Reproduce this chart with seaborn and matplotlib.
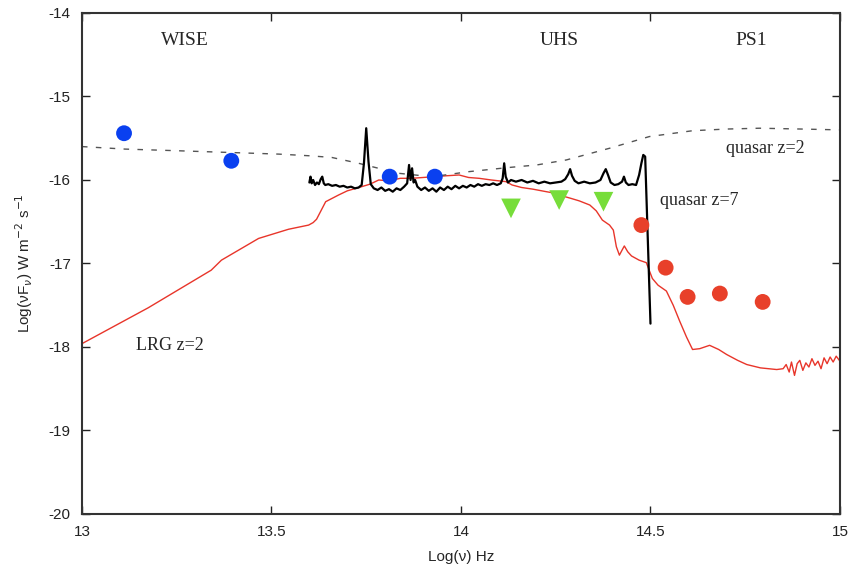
import pandas as pd
import matplotlib
matplotlib.use("Agg")
import matplotlib.pyplot as plt
import seaborn as sns

# photometry points
wise_x = [13.111, 13.394]
wise_y = [-15.44, -15.77]
wise2_x = [13.812, 13.931]
wise2_y = [-15.96, -15.96]
uhs_x = [14.132, 14.259, 14.376]
uhs_y = [-16.34, -16.24, -16.26]
ps1_x = [14.476, 14.540, 14.598, 14.683, 14.796]
ps1_y = [-16.54, -17.05, -17.40, -17.36, -17.46]

# quasar z=2 template (dashed)
qso2_x = [13.0, 13.114, 13.254, 13.386, 13.519, 13.60, 13.659, 13.730, 13.80, 13.836,
          13.90, 13.942, 14.021, 14.127, 14.20, 14.278, 14.392, 14.497, 14.611, 14.70,
          14.788, 14.90, 15.0]
qso2_y = [-15.60, -15.63, -15.65, -15.67, -15.69, -15.71, -15.73, -15.80, -15.88, -15.92,
          -15.95, -15.95, -15.90, -15.85, -15.82, -15.76, -15.62, -15.48, -15.41, -15.39,
          -15.38, -15.39, -15.40]

# quasar z=7 spectrum (black)
qso7_x = [13.600, 13.603, 13.606, 13.610, 13.615, 13.620, 13.625, 13.630, 13.634, 13.638,
          13.642, 13.650, 13.660, 13.670, 13.680, 13.690, 13.700, 13.710, 13.720, 13.730,
          13.738, 13.744, 13.750, 13.756, 13.762, 13.770, 13.780, 13.790, 13.800, 13.810,
          13.820, 13.830, 13.840, 13.850, 13.858, 13.863, 13.867, 13.871, 13.875, 13.879,
          13.885, 13.895, 13.905, 13.915, 13.925, 13.935, 13.945, 13.955, 13.965, 13.975,
          13.985, 13.995, 14.005, 14.015, 14.025, 14.035, 14.045, 14.055, 14.065, 14.075,
          14.085, 14.095, 14.105, 14.110, 14.114, 14.118, 14.124, 14.132, 14.145, 14.160,
          14.175, 14.190, 14.205, 14.220, 14.235, 14.250, 14.265, 14.275, 14.283, 14.288,
          14.293, 14.300, 14.310, 14.325, 14.340, 14.355, 14.368, 14.376, 14.382, 14.388,
          14.395, 14.405, 14.415, 14.425, 14.430, 14.435, 14.442, 14.452, 14.462, 14.470,
          14.476, 14.481, 14.486, 14.500]
qso7_y = [-16.03, -15.96, -16.04, -16.00, -16.06, -16.03, -16.05, -15.99, -15.96, -16.04,
          -16.06, -16.05, -16.07, -16.06, -16.08, -16.07, -16.09, -16.08, -16.10, -16.09,
          -16.06, -15.80, -15.38, -15.78, -16.05, -16.10, -16.12, -16.09, -16.13, -16.11,
          -16.14, -16.10, -16.12, -16.08, -16.04, -15.82, -16.00, -15.86, -16.03, -16.00,
          -16.08, -16.12, -16.09, -16.13, -16.10, -16.14, -16.09, -16.12, -16.08, -16.11,
          -16.07, -16.10, -16.07, -16.09, -16.06, -16.08, -16.05, -16.07, -16.05, -16.06,
          -16.04, -16.06, -16.04, -15.98, -15.80, -15.96, -16.03, -16.00, -16.02, -16.00,
          -16.03, -16.01, -16.04, -16.02, -16.04, -16.03, -16.02, -15.99, -15.93, -15.87,
          -15.95, -16.01, -16.04, -16.02, -16.04, -16.03, -16.00, -15.92, -15.87, -15.94,
          -16.03, -16.06, -16.05, -16.02, -15.96, -16.03, -16.06, -16.05, -16.06, -15.94,
          -15.80, -15.70, -15.72, -17.72]

# LRG z=2 template (red)
lrg_x = [13.000, 13.175, 13.341, 13.368, 13.466, 13.545, 13.598, 13.610, 13.619, 13.643,
         13.660, 13.677, 13.700, 13.738, 13.760, 13.783, 13.810, 13.840, 13.870, 13.900,
         13.930, 13.960, 13.995, 14.020, 14.048, 14.080, 14.119, 14.135, 14.160, 14.190,
         14.225, 14.250, 14.267, 14.290, 14.312, 14.340, 14.357, 14.373, 14.392, 14.402,
         14.410, 14.418, 14.425, 14.431, 14.440, 14.450, 14.470, 14.489, 14.505, 14.520,
         14.542, 14.560, 14.577, 14.595, 14.611, 14.630, 14.656, 14.680, 14.701, 14.730,
         14.754, 14.790, 14.833, 14.850, 14.858, 14.866, 14.872, 14.880, 14.887, 14.894,
         14.902, 14.910, 14.918, 14.926, 14.934, 14.942, 14.950, 14.958, 14.966, 14.974,
         14.982, 14.990, 15.000]
lrg_y = [-17.96, -17.53, -17.08, -16.96, -16.70, -16.59, -16.54, -16.51, -16.47, -16.26,
         -16.22, -16.18, -16.13, -16.08, -16.05, -16.00, -16.01, -15.98, -15.98, -15.97,
         -15.96, -15.95, -15.94, -15.97, -15.98, -16.00, -16.02, -16.06, -16.09, -16.11,
         -16.14, -16.16, -16.19, -16.22, -16.25, -16.30, -16.37, -16.48, -16.54, -16.60,
         -16.80, -16.90, -16.84, -16.79, -16.86, -16.91, -16.96, -16.99, -17.18, -17.26,
         -17.33, -17.50, -17.69, -17.88, -18.03, -18.02, -17.98, -18.03, -18.09, -18.16,
         -18.21, -18.25, -18.27, -18.26, -18.21, -18.30, -18.18, -18.34, -18.20, -18.16,
         -18.28, -18.19, -18.24, -18.14, -18.22, -18.17, -18.26, -18.13, -18.20, -18.12,
         -18.18, -18.11, -18.17]

sns.set_style("ticks")
plt.rcParams['font.family'] = ['Liberation Sans', 'DejaVu Sans']
plt.rcParams['axes.unicode_minus'] = False

fig = plt.figure(figsize=(8.52, 5.72), dpi=100)
ax = fig.add_axes([0.0962, 0.1014, 0.8897, 0.8759])

sns.lineplot(x=lrg_x, y=lrg_y, sort=False, color='#e8352a', linewidth=1.0, ax=ax)
sns.lineplot(x=qso2_x, y=qso2_y, sort=False, color='#555555', linewidth=1.0,
             linestyle=(0, (4, 6)), ax=ax)
sns.lineplot(x=qso7_x, y=qso7_y, sort=False, color='black', linewidth=1.6, ax=ax)

sns.scatterplot(x=wise_x + wise2_x, y=wise_y + wise2_y, color='#0a40f0', s=130,
                edgecolor='none', ax=ax, zorder=5)
sns.scatterplot(x=uhs_x, y=uhs_y, color='#77dd3a', marker='v', s=200,
                edgecolor='none', ax=ax, zorder=5)
sns.scatterplot(x=ps1_x, y=ps1_y, color='#e8402a', s=130,
                edgecolor='none', ax=ax, zorder=5)

serif = ['Liberation Serif', 'DejaVu Serif']
ax.text(13.272, -14.33, 'WISE', family=serif, fontsize=14, ha='center', va='center')
ax.text(14.259, -14.33, 'UHS', family=serif, fontsize=14, ha='center', va='center')
ax.text(14.767, -14.33, 'PS1', family=serif, fontsize=14, ha='center', va='center')
ax.text(14.698, -15.62, 'quasar z=2', family=serif, fontsize=13, ha='left', va='center')
ax.text(14.524, -16.25, 'quasar z=7', family=serif, fontsize=13, ha='left', va='center')
ax.text(13.143, -17.98, 'LRG z=2', family=serif, fontsize=13, ha='left', va='center')

ax.set_xlim(13, 15)
ax.set_ylim(-20, -14)
ax.set_xticks([13, 13.5, 14, 14.5, 15])
ax.set_xticklabels(['13', '13.5', '14', '14.5', '15'])
ax.set_yticks([-20, -19, -18, -17, -16, -15, -14])
ax.tick_params(direction='in', top=True, right=True, length=6, width=1,
               labelsize=11, colors='#222222', pad=8)
for sp in ax.spines.values():
    sp.set_linewidth(1.5)
    sp.set_color('#333333')

ax.set_xlabel('Log(ν) Hz', fontsize=11, labelpad=8)
ax.set_ylabel(r'Log(νF$_{ν}$) W m$^{-2}$ s$^{-1}$', fontsize=11, labelpad=10)

fig.savefig('out.png', dpi=100)
plt.close(fig)
